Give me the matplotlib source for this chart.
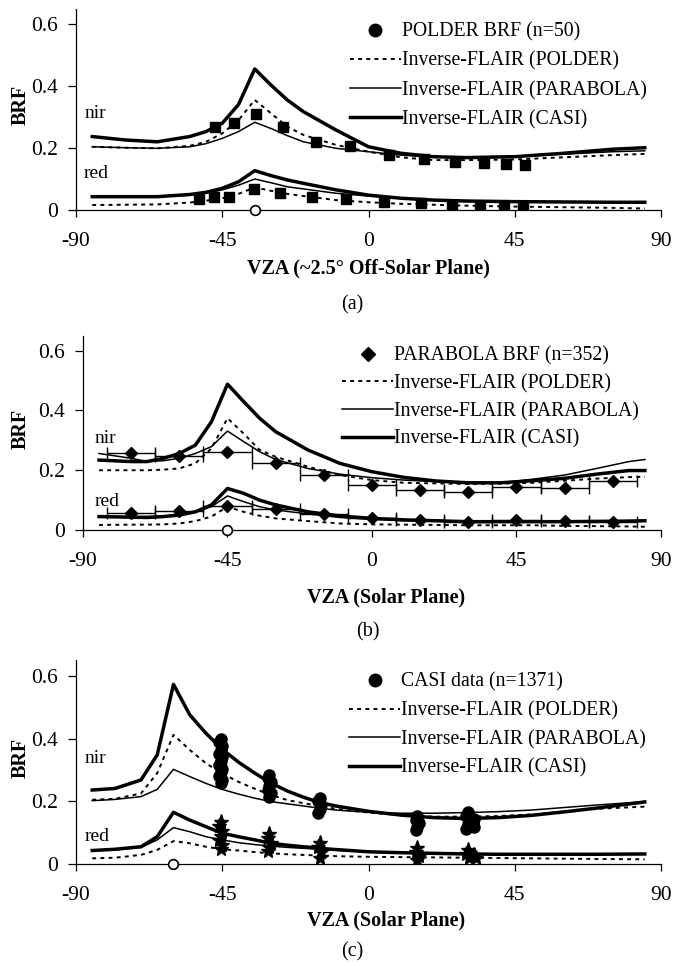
import matplotlib
matplotlib.use("Agg")
import matplotlib.pyplot as plt
from matplotlib.lines import Line2D

plt.rcParams['font.family'] = ['Liberation Serif', 'DejaVu Serif']

# ---------------- Panel (a) ----------------
a_ang = [-85, -75, -65, -55, -50, -45, -40, -35, -30, -25, -20, -10, 0, 10, 20, 30, 45, 60, 75, 85]
a_casi_nir = [0.237, 0.226, 0.220, 0.237, 0.253, 0.280, 0.340, 0.455, 0.403, 0.355, 0.317, 0.258, 0.204, 0.183, 0.172, 0.169, 0.172, 0.183, 0.196, 0.201]
a_para_nir = [0.204, 0.201, 0.199, 0.204, 0.214, 0.231, 0.253, 0.283, 0.263, 0.240, 0.220, 0.199, 0.188, 0.177, 0.170, 0.170, 0.174, 0.180, 0.188, 0.191]
a_pold_nir = [0.204, 0.201, 0.199, 0.207, 0.220, 0.247, 0.290, 0.355, 0.312, 0.269, 0.242, 0.210, 0.188, 0.170, 0.161, 0.161, 0.163, 0.170, 0.177, 0.181]
a_casi_red = [0.043, 0.043, 0.043, 0.050, 0.057, 0.070, 0.091, 0.127, 0.111, 0.097, 0.086, 0.065, 0.048, 0.038, 0.032, 0.029, 0.027, 0.026, 0.025, 0.025]
a_para_red = [0.043, 0.043, 0.043, 0.048, 0.054, 0.065, 0.080, 0.100, 0.088, 0.075, 0.068, 0.054, 0.045, 0.038, 0.032, 0.029, 0.027, 0.026, 0.025, 0.025]
a_pold_red = [0.016, 0.017, 0.018, 0.024, 0.030, 0.038, 0.052, 0.073, 0.062, 0.052, 0.045, 0.032, 0.025, 0.020, 0.017, 0.014, 0.011, 0.009, 0.007, 0.005]
a_obs_nir_ang = [-47.2, -41.5, -34.6, -26.4, -16.0, -5.7, 6.2, 17.1, 26.6, 35.6, 42.3, 48.2]
a_obs_nir = [0.269, 0.280, 0.310, 0.267, 0.220, 0.206, 0.177, 0.163, 0.154, 0.151, 0.148, 0.145]
a_obs_red_ang = [-52.2, -47.5, -42.8, -35.2, -27.3, -17.4, -6.8, 4.9, 16.0, 25.7, 34.3, 41.6, 47.6]
a_obs_red = [0.035, 0.041, 0.043, 0.067, 0.056, 0.041, 0.034, 0.027, 0.022, 0.016, 0.011, 0.006, 0.008]
a_sun = -35

# ---------------- Panel (b) ----------------
b_ang = [-85, -75, -70, -65, -60, -55, -50, -45, -40, -35, -30, -20, -10, 0, 10, 20, 30, 40, 50, 60, 70, 80, 85]
b_casi_nir = [0.234, 0.229, 0.229, 0.240, 0.256, 0.284, 0.362, 0.488, 0.430, 0.374, 0.329, 0.268, 0.223, 0.195, 0.176, 0.164, 0.158, 0.158, 0.165, 0.173, 0.187, 0.199, 0.199]
b_para_nir = [0.256, 0.240, 0.229, 0.232, 0.240, 0.256, 0.279, 0.331, 0.296, 0.262, 0.236, 0.206, 0.187, 0.175, 0.167, 0.162, 0.158, 0.158, 0.170, 0.184, 0.206, 0.229, 0.236]
b_pold_nir = [0.200, 0.200, 0.200, 0.202, 0.206, 0.223, 0.273, 0.374, 0.323, 0.268, 0.245, 0.212, 0.184, 0.167, 0.158, 0.156, 0.154, 0.155, 0.158, 0.165, 0.172, 0.177, 0.178]
b_casi_red = [0.045, 0.043, 0.042, 0.045, 0.050, 0.061, 0.084, 0.139, 0.123, 0.100, 0.084, 0.061, 0.047, 0.039, 0.034, 0.031, 0.028, 0.028, 0.028, 0.028, 0.029, 0.030, 0.031]
b_para_red = [0.045, 0.045, 0.045, 0.047, 0.052, 0.061, 0.078, 0.114, 0.095, 0.078, 0.067, 0.054, 0.042, 0.036, 0.032, 0.030, 0.027, 0.026, 0.026, 0.027, 0.028, 0.029, 0.030]
b_pold_red = [0.017, 0.018, 0.018, 0.019, 0.022, 0.030, 0.045, 0.078, 0.061, 0.048, 0.039, 0.030, 0.022, 0.019, 0.018, 0.017, 0.016, 0.016, 0.016, 0.014, 0.013, 0.012, 0.011]
b_obs_ang = [-75, -60, -45, -30, -15, 0, 15, 30, 45, 60, 75]
b_obs_nir = [0.256, 0.249, 0.262, 0.223, 0.184, 0.151, 0.134, 0.126, 0.145, 0.139, 0.164]
b_obs_red = [0.056, 0.064, 0.080, 0.072, 0.052, 0.041, 0.033, 0.028, 0.033, 0.030, 0.028]
b_obs_halfwidth = 7.5
b_sun = -45

# ---------------- Panel (c) ----------------
c_ang = [-85, -78, -70, -65, -60, -55, -50, -45, -40, -35, -30, -25, -20, -15, -10, 0, 10, 20, 30, 40, 50, 60, 70, 85]
c_casi_nir = [0.236, 0.241, 0.268, 0.348, 0.573, 0.476, 0.417, 0.366, 0.325, 0.290, 0.258, 0.233, 0.213, 0.196, 0.185, 0.168, 0.156, 0.148, 0.145, 0.148, 0.155, 0.166, 0.178, 0.198]
c_para_nir = [0.202, 0.206, 0.215, 0.238, 0.302, 0.279, 0.257, 0.238, 0.223, 0.210, 0.199, 0.192, 0.185, 0.178, 0.172, 0.165, 0.162, 0.162, 0.164, 0.167, 0.172, 0.180, 0.188, 0.199]
c_pold_nir = [0.205, 0.208, 0.225, 0.290, 0.412, 0.364, 0.321, 0.289, 0.262, 0.240, 0.220, 0.204, 0.194, 0.185, 0.176, 0.164, 0.156, 0.151, 0.151, 0.153, 0.158, 0.167, 0.176, 0.183]
c_casi_red = [0.043, 0.047, 0.055, 0.087, 0.165, 0.140, 0.119, 0.098, 0.087, 0.077, 0.066, 0.060, 0.055, 0.050, 0.046, 0.039, 0.036, 0.034, 0.032, 0.031, 0.031, 0.031, 0.031, 0.032]
c_para_red = [0.043, 0.045, 0.053, 0.077, 0.116, 0.103, 0.087, 0.077, 0.068, 0.062, 0.057, 0.053, 0.050, 0.047, 0.044, 0.039, 0.036, 0.034, 0.032, 0.031, 0.031, 0.031, 0.031, 0.032]
c_pold_red = [0.018, 0.020, 0.029, 0.045, 0.073, 0.066, 0.055, 0.047, 0.043, 0.038, 0.034, 0.031, 0.029, 0.027, 0.025, 0.023, 0.022, 0.021, 0.020, 0.019, 0.018, 0.017, 0.016, 0.015]
c_obs_nir_ang = [-45.5, -46, -45, -45.5, -46, -45, -45.5, -46, -45, -45.5, -46, -45, -45.5,
                 -30.5, -31, -30, -30.5, -31, -30, -30.5,
                 -15, -15.5, -14.5, -15, -15.5,
                 15, 14.5, 15.5, 15, 14.5,
                 30.5, 30, 31, 30.5, 30, 32.5, 32, 32.5]
c_obs_nir = [0.400, 0.388, 0.376, 0.364, 0.352, 0.340, 0.328, 0.316, 0.304, 0.292, 0.280, 0.268, 0.258,
             0.285, 0.273, 0.261, 0.249, 0.237, 0.225, 0.213,
             0.212, 0.200, 0.188, 0.176, 0.163,
             0.152, 0.141, 0.130, 0.119, 0.108,
             0.165, 0.153, 0.141, 0.129, 0.112, 0.145, 0.130, 0.118]
c_obs_red_ang = [-45.5, -46, -45, -45.5, -46, -45, -45.5,
                 -30.5, -31, -30, -30.5, -31,
                 -15, -15.5, -14.5, -15,
                 15, 14.5, 15.5, 15,
                 30.5, 30, 31, 32.5, 33]
c_obs_red = [0.135, 0.120, 0.105, 0.090, 0.075, 0.060, 0.048,
             0.095, 0.082, 0.068, 0.054, 0.040,
             0.068, 0.053, 0.038, 0.020,
             0.052, 0.038, 0.024, 0.012,
             0.045, 0.032, 0.018, 0.030, 0.018]
c_sun = -60

x_ticks = [-90, -45, 0, 45, 90]
y_ticks = [0, 0.2, 0.4, 0.6]
y_ticklabels = ["0", "0.2", "0.4", "0.6"]
model_labels = ["Inverse-FLAIR (POLDER)", "Inverse-FLAIR (PARABOLA)", "Inverse-FLAIR (CASI)"]

FS = 14.5
TFS = 15.5
fig = plt.figure(figsize=(6.73, 9.66), dpi=100)

def setup(ax, ylab_x, xlab_xy, xlabel):
    ax.set_xlim(-90, 90)
    ax.set_ylim(0, 0.65)
    for s in ['top', 'right']:
        ax.spines[s].set_visible(False)
    for s in ['left', 'bottom']:
        ax.spines[s].set_linewidth(0.9)
    ax.set_xticks(x_ticks)
    ax.set_xticklabels([str(v) for v in x_ticks], fontsize=TFS)
    ax.set_yticks(y_ticks)
    ax.set_yticklabels(y_ticklabels, fontsize=TFS)
    ax.tick_params(axis='x', direction='out', length=5, width=0.9, pad=11)
    ax.tick_params(axis='y', direction='out', length=6, width=0.9, pad=7)
    ax.set_ylabel("BRF", fontsize=FS, fontweight='bold')
    ax.yaxis.set_label_coords(ylab_x, 0.52)
    ax.yaxis.label.set_va('center')
    ax.set_xlabel(xlabel, fontsize=FS, fontweight='bold')
    ax.xaxis.set_label_coords(*xlab_xy)
    ax.xaxis.label.set_va('center')

def models(ax, ang, cn, pn, dn, cr, pr, dr):
    l1, = ax.plot(ang, dn, color='k', lw=1.4, ls=(0, (2, 2.2)))
    ax.plot(ang, dr, color='k', lw=1.4, ls=(0, (2, 2.2)))
    l2, = ax.plot(ang, pn, color='k', lw=1.1)
    ax.plot(ang, pr, color='k', lw=1.1)
    l3, = ax.plot(ang, cn, color='k', lw=2.5)
    ax.plot(ang, cr, color='k', lw=2.5)
    return [l1, l2, l3]

def sun(ax, s):
    ax.plot([s], [0], marker='o', ms=7, mfc='white', mec='k', mew=1.2,
            clip_on=False, zorder=10, ls='none')

LEG = dict(loc='upper left', frameon=False, fontsize=FS - 0.3, handlelength=2.6,
           handletextpad=0.05, borderpad=0, borderaxespad=0)

# ---- (a)
axa = fig.add_axes([0.1129, 0.7826, 0.8693, 0.2086])
la = models(axa, a_ang, a_casi_nir, a_para_nir, a_pold_nir, a_casi_red, a_para_red, a_pold_red)
axa.plot(a_obs_nir_ang, a_obs_nir, ls='none', marker='s', ms=7, color='k')
axa.plot(a_obs_red_ang, a_obs_red, ls='none', marker='s', ms=7, color='k')
sun(axa, a_sun)
axa.text(-87.5, 0.312, "nir", fontsize=FS - 0.5, va='center', ha='left')
axa.text(-87.5, 0.118, "red", fontsize=FS - 0.5, va='center', ha='left')
setup(axa, -0.095, (0.5, -0.29), "VZA (~2.5\u00b0 Off-Solar Plane)")
ha = Line2D([], [], ls='none', marker='o', ms=9, color='k')
axa.legend([ha] + la, ["POLDER BRF (n=50)"] + model_labels,
           bbox_to_anchor=(0.468, 0.93), labelspacing=0.5, **LEG)
fig.text(352 / 673, 1 - 305 / 966, "(a)", fontsize=FS, ha='center', va='center')

# ---- (b)
axb = fig.add_axes([0.1233, 0.4513, 0.8588, 0.2012])
lb = models(axb, b_ang, b_casi_nir, b_para_nir, b_pold_nir, b_casi_red, b_para_red, b_pold_red)
axb.errorbar(b_obs_ang, b_obs_nir, xerr=b_obs_halfwidth, fmt='D', ms=6.5, color='k',
             elinewidth=1.0, capsize=4, capthick=1.0)
axb.errorbar(b_obs_ang, b_obs_red, xerr=b_obs_halfwidth, fmt='D', ms=6.5, color='k',
             elinewidth=1.0, capsize=4, capthick=1.0)
sun(axb, b_sun)
axb.text(-86.4, 0.307, "nir", fontsize=FS - 0.5, va='center', ha='left')
axb.text(-86.4, 0.095, "red", fontsize=FS - 0.5, va='center', ha='left')
setup(axb, -0.108, (0.524, -0.345), "VZA (Solar Plane)")
hb = Line2D([], [], ls='none', marker='D', ms=7, color='k')
axb.legend([hb] + lb, ["PARABOLA BRF (n=352)"] + model_labels,
           bbox_to_anchor=(0.448, 0.945), labelspacing=0.43, **LEG)
fig.text(368 / 673, 1 - 632 / 966, "(b)", fontsize=FS, ha='center', va='center')

# ---- (c)
axc = fig.add_axes([0.1129, 0.1056, 0.8693, 0.2109])
lc = models(axc, c_ang, c_casi_nir, c_para_nir, c_pold_nir, c_casi_red, c_para_red, c_pold_red)
axc.plot(c_obs_nir_ang, c_obs_nir, ls='none', marker='o', ms=8, color='k')
axc.plot(c_obs_red_ang, c_obs_red, ls='none', marker='*', ms=11, color='k')
sun(axc, c_sun)
axc.text(-87.4, 0.337, "nir", fontsize=FS - 0.5, va='center', ha='left')
axc.text(-87.4, 0.087, "red", fontsize=FS - 0.5, va='center', ha='left')
setup(axc, -0.095, (0.53, -0.275), "VZA (Solar Plane)")
hc = Line2D([], [], ls='none', marker='o', ms=9, color='k')
axc.legend([hc] + lc, ["CASI data (n=1371)"] + model_labels,
           bbox_to_anchor=(0.467, 0.94), labelspacing=0.48, **LEG)
fig.text(352 / 673, 1 - 952 / 966, "(c)", fontsize=FS, ha='center', va='center')

fig.savefig("out.png", dpi=100)
